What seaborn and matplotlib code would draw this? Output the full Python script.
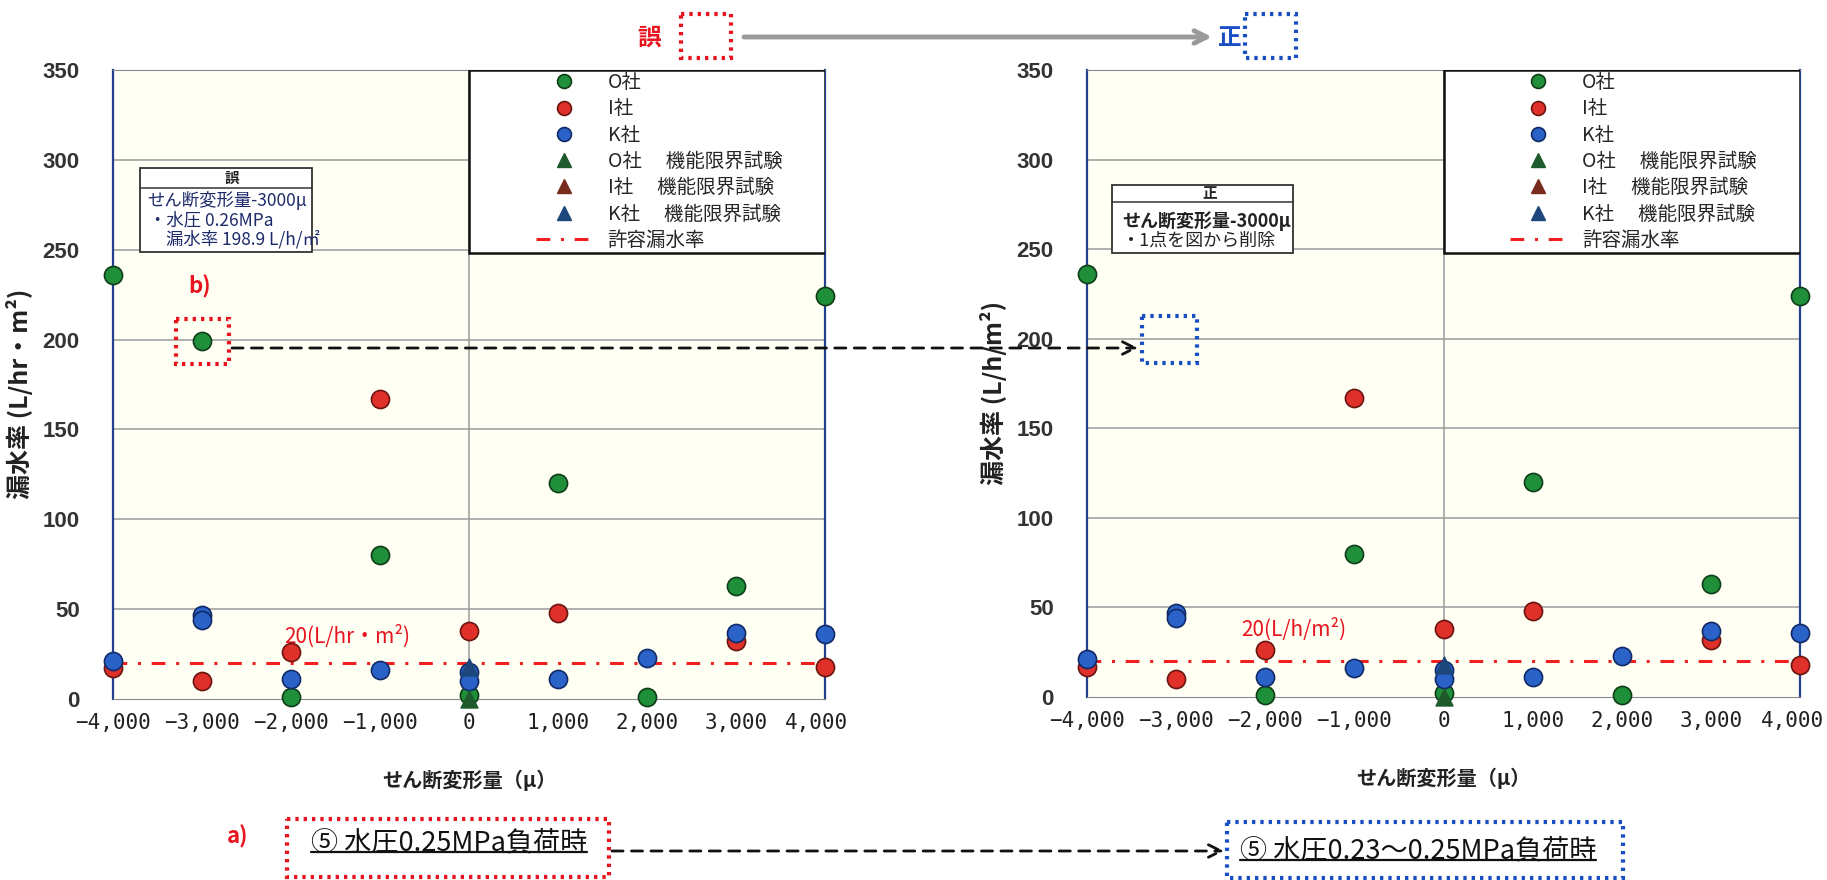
import numpy as np
import pandas as pd
import matplotlib
matplotlib.use("Agg")
import matplotlib.pyplot as plt
import matplotlib.transforms as mtransforms
from matplotlib.lines import Line2D
from matplotlib.patches import Rectangle
import seaborn as sns

# ---- data -------------------------------------------------------------
shear = [-4000, -3000, -2000, -1000, 0, 1000, 2000, 3000, 4000]   # せん断変形量 (μ)

rate_O = [236, 199, 1, 80, 2, 120, 1, 63, 224]                    # O社
rate_O_fixed = [236, np.nan, 1, 80, 2, 120, 1, 63, 224]           # O社 (1点削除後)
rate_I = [17, 10, 26, 167, 38, 48, np.nan, 32, 18]                # I社
rate_K = [21, 47, 11, 16, 15, 11, 23, 37, 36]                     # K社
rate_K_extra_x = [-3000, 0]
rate_K_extra = [44, 10]

limit_company = ["O社", "K社"]                                     # 機能限界試験
limit_x = [0, 0]
limit_rate = [0, 18]

allow_rate = 20                                                    # 許容漏水率
yticks = [0, 50, 100, 150, 200, 250, 300, 350]

companies = ["O社", "I社", "K社"]
fill_col = {"O社": "#1f8f3a", "I社": "#e0302a", "K社": "#2a62c8"}
edge_col = {"O社": "#0f3d18", "I社": "#6a1510", "K社": "#112a66"}
tri_col = {"O社": "#1e5a2c", "I社": "#7a2c1c", "K社": "#1c467c"}
RED = "#e8141e"
BLUE = "#1a4fc4"

# ---- style ------------------------------------------------------------
sns.set_style("white")
plt.rcParams["font.family"] = ["Noto Sans CJK JP", "DejaVu Sans"]
CJK = ["Noto Sans CJK JP", "DejaVu Sans"]

W, H = 1827, 880
fig = plt.figure(figsize=(W / 100, H / 100), dpi=100)


def px_axes(l, t, r, b):
    return fig.add_axes([l / W, 1 - b / H, (r - l) / W, (b - t) / H])


def frame(o_vals):
    rows = []
    for comp, vals in (("O社", o_vals), ("I社", rate_I), ("K社", rate_K)):
        rows += [(comp, xv, yv) for xv, yv in zip(shear, vals)]
    rows += [("K社", xv, yv) for xv, yv in zip(rate_K_extra_x, rate_K_extra)]
    return pd.DataFrame(rows, columns=["company", "shear", "rate"]).dropna()


def draw_panel(ax, o_vals, ylabel, allow_text, allow_pos):
    ax.set_facecolor("#fffff4")
    ax.set_xlim(-4000, 4000)
    ax.set_ylim(0, 350)
    ax.set_yticks(yticks)
    ax.set_xticks(shear)
    ax.set_xticklabels([f"{v:,}".replace("-", "−") for v in shear],
                       family="DejaVu Sans Mono", fontsize=15, color="#222")
    ax.set_yticklabels([str(v) for v in yticks], family="Liberation Sans",
                       fontweight="bold", fontsize=16, color="#333")
    ax.tick_params(axis="x", length=0, pad=10)
    ax.tick_params(axis="y", length=0, pad=24)
    # pull the last x label slightly inward so it stays on the canvas
    last = ax.get_xticklabels()[-1]
    last.set_transform(last.get_transform() +
                       mtransforms.ScaledTranslation(-0.08, 0, fig.dpi_scale_trans))
    for y in yticks[1:-1]:
        ax.axhline(y, color="#9a9a9a", lw=1.1, zorder=1)
    ax.axvline(0, color="#9a9a9a", lw=1.1, zorder=1)
    for side in ("left", "right"):
        ax.spines[side].set_color("#23408e")
        ax.spines[side].set_linewidth(1.6)
    ax.spines["top"].set_color("#8a8a8a")
    ax.spines["bottom"].set_color("#8a8a8a")

    # 許容漏水率
    ax.axhline(allow_rate, color="#ee2020", lw=2.2, dashes=(4.5, 3.5, 1, 3.5), zorder=2)
    ax.text(allow_pos[0], allow_pos[1], allow_text, color=RED, fontsize=15,
            ha="center", va="center", zorder=3)

    # 凡例枠
    ax.add_patch(Rectangle((0, 248), 4000, 102, facecolor="white",
                           edgecolor="#111", lw=1.8, zorder=3))

    df = frame(o_vals)
    for comp in companies:
        sub = df[df.company == comp]
        sns.scatterplot(data=sub, x="shear", y="rate", ax=ax, color=fill_col[comp],
                        edgecolor=edge_col[comp], linewidth=1.2, s=170,
                        clip_on=False, zorder=4, legend=False)
    tri = pd.DataFrame({"company": limit_company, "shear": limit_x, "rate": limit_rate})
    for comp, sub in tri.groupby("company"):
        sns.scatterplot(data=sub, x="shear", y="rate", ax=ax, marker="^",
                        color=tri_col[comp], edgecolor=tri_col[comp], s=150,
                        clip_on=False, zorder=5, legend=False)

    handles = [Line2D([], [], ls="", marker="o", ms=10, mfc=fill_col[c],
                      mec=edge_col[c], mew=1.2) for c in companies]
    handles += [Line2D([], [], ls="", marker="^", ms=10, mfc=tri_col[c],
                       mec=tri_col[c]) for c in companies]
    handles.append(Line2D([], [], color="#ee2020", lw=2.2, dashes=(4.5, 3.5, 1, 3.5)))
    labels = companies + [f"{c}　 機能限界試験" for c in companies] + ["許容漏水率"]
    leg = ax.legend(handles, labels, loc="upper left", bbox_to_anchor=(0.58, 1.012),
                    frameon=False, borderpad=0, handlelength=2.9, handletextpad=0.8,
                    labelspacing=0.27, prop={"family": CJK, "size": 14})
    leg.set_zorder(6)

    ax.set_xlabel("せん断変形量（μ）", fontsize=14.5, fontweight="bold", color="#222")
    ax.xaxis.set_label_coords(0.5, -0.112)
    ax.set_ylabel(ylabel, fontsize=18, fontweight="bold", color="#222")
    ax.yaxis.set_label_coords(-0.112, 0.485)


axL = px_axes(113, 70, 825, 699)
axR = px_axes(1087, 70, 1800, 697)
draw_panel(axL, rate_O, "漏水率 (L/hr・m²)", "20(L/hr・m²)", (-1370, 35))
draw_panel(axR, rate_O_fixed, "漏水率 (L/h/m²)", "20(L/h/m²)", (-1680, 38))

# ---- overlay for notes and arrows (pixel coordinates) -----------------
ov = fig.add_axes([0, 0, 1, 1])
ov.set_xlim(0, W)
ov.set_ylim(H, 0)
ov.axis("off")
ov.patch.set_alpha(0)
ov.set_zorder(10)


def dotted_box(x0, y0, x1, y1, color):
    ov.add_patch(Rectangle((x0, y0), x1 - x0, y1 - y0, fill=False, edgecolor=color,
                           lw=3, linestyle=(0, (0.8, 1.2))))


def arrow(x0, y0, x1, y1, color, lw, dashed):
    props = dict(arrowstyle="->,head_length=0.9,head_width=0.45", color=color, lw=lw,
                 shrinkA=0, shrinkB=0)
    if dashed:
        props["linestyle"] = (0, (4, 3))
    ov.annotate("", xy=(x1, y1), xytext=(x0, y0), arrowprops=props)


# 誤 → 正
ov.text(649, 38, "誤", color=RED, fontsize=17, fontweight="bold", ha="center", va="center")
dotted_box(681, 14, 731, 58, RED)
arrow(744, 37, 1212, 37, "#9a9a9a", 3.5, False)
ov.text(1230, 38, "正", color=BLUE, fontsize=17, fontweight="bold", ha="center", va="center")
dotted_box(1245, 14, 1296, 58, BLUE)

# b) 削除点
ov.text(200, 287, "b)", color=RED, fontsize=16, fontweight="bold", ha="center", va="center")
dotted_box(176, 319, 229, 364, RED)
arrow(232, 348, 1138, 348, "#111", 2, True)
dotted_box(1142, 316, 1197, 363, BLUE)

# 注記ボックス (誤)
ov.add_patch(Rectangle((140, 168), 172, 84, facecolor="white", edgecolor="#333", lw=1.3))
ov.plot([140, 312], [188, 188], color="#333", lw=1.1)
ov.text(232, 178, "誤", fontsize=10.5, fontweight="bold", ha="center", va="center", color="#222")
ov.text(147, 201, "せん断変形量-3000μ", fontsize=12.5, ha="left", va="center", color="#1c2a6a")
ov.text(149, 220, "・水圧 0.26MPa", fontsize=12.5, ha="left", va="center", color="#1c2a6a")
ov.text(166, 239, "漏水率 198.9 L/h/㎡", fontsize=12.5, ha="left", va="center", color="#1c2a6a")

# 注記ボックス (正)
ov.add_patch(Rectangle((1112, 185), 181, 68, facecolor="white", edgecolor="#333", lw=1.3))
ov.plot([1112, 1293], [202, 202], color="#333", lw=1.1)
ov.text(1210, 193, "正", fontsize=10.5, fontweight="bold", ha="center", va="center", color="#222")
ov.text(1122, 221, "せん断変形量-3000μ", fontsize=13, fontweight="bold", ha="left",
        va="center", color="#222")
ov.text(1122, 241, "・1点を図から削除", fontsize=13, ha="left", va="center", color="#222")

# a) 荷重条件
ov.text(238, 837, "a)", color=RED, fontsize=16, fontweight="bold", ha="center", va="center")
dotted_box(287, 819, 609, 877, RED)
tA = ov.text(449, 843, "⑤ 水圧0.25MPa負荷時", fontsize=19.5, ha="center", va="center", color="#111")
arrow(612, 851, 1224, 851, "#111", 2, True)
dotted_box(1227, 822, 1623, 878, BLUE)
tB = ov.text(1418, 851, "⑤ 水圧0.23～0.25MPa負荷時", fontsize=19.5, ha="center",
             va="center", color="#111")

# 下線
fig.canvas.draw()
rend = fig.canvas.get_renderer()
for t in (tA, tB):
    bb = t.get_window_extent(rend)
    yb = H - bb.y0 - 4
    ov.plot([bb.x0, bb.x1], [yb, yb], color="#111", lw=1.6)

fig.savefig("out.png", dpi=100)
